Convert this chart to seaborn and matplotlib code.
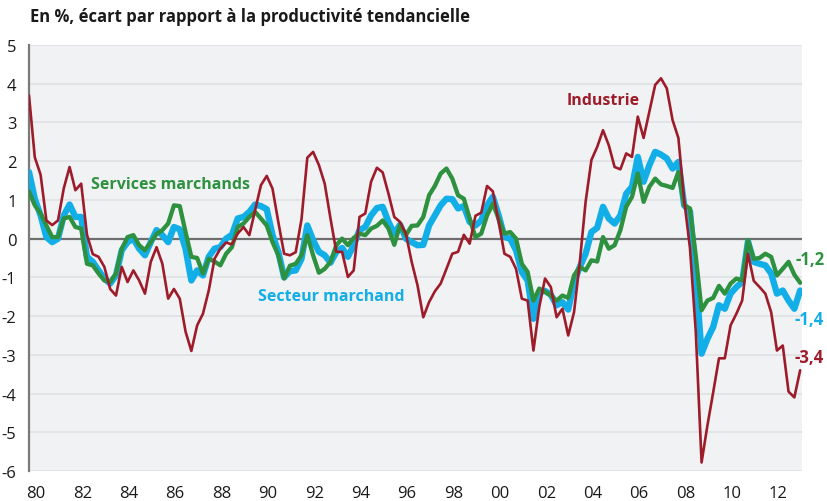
import pandas as pd
import seaborn as sns
import matplotlib.pyplot as plt

# ecarts trimestriels (en %) a la productivite tendancielle, 1980T1 -> 2013T2
industrie = [3.7, 2.1, 1.65, 0.47, 0.35, 0.47, 1.3, 1.85, 1.25, 1.42,
             0.1, -0.4, -0.47, -0.73, -1.3, -1.47, -0.73, -1.12, -0.82, -1.08,
             -1.42, -0.6, -0.22, -0.65, -1.55, -1.3, -1.55, -2.4, -2.9, -2.24,
             -1.94, -1.34, -0.52, -0.26, -0.1, -0.15, 0.13, 0.3, 0.09, 0.73,
             1.38, 1.62, 1.29, 0.43, -0.39, -0.43, -0.35, 0.5, 2.09, 2.24,
             1.9, 1.42, 0.52, -0.34, -0.34, -0.99, -0.82, 0.56, 0.65, 1.47,
             1.83, 1.71, 1.16, 0.56, 0.43, 0.13, -0.6, -1.2, -2.03, -1.64,
             -1.36, -1.16, -0.78, -0.39, -0.34, 0.1, -0.13, 0.59, 0.67, 1.36,
             1.22, 0.43, -0.39, -0.47, -0.78, -1.55, -1.6, -2.89, -1.77, -1.03,
             -1.25, -2.03, -1.81, -2.5, -1.9, -0.6, 0.95, 2.03, 2.37, 2.8,
             2.41, 1.85, 1.79, 2.2, 2.11, 3.15, 2.6, 3.28, 3.97, 4.14,
             3.88, 3.06, 2.6, 1.0, -0.25, -2.4, -5.78, -4.83, -3.97, -3.09,
             -3.09, -2.24, -1.94, -1.6, -0.39, -1.09, -1.25, -1.42, -1.9, -2.89,
             -2.76, -3.95, -4.1, -3.4]

services = [1.22, 0.86, 0.65, 0.34, 0.04, 0.04, 0.52, 0.56, 0.3, 0.26,
            -0.65, -0.69, -0.9, -1.08, -1.12, -0.9, -0.26, 0.04, 0.09, -0.17,
            -0.3, -0.09, 0.12, 0.22, 0.39, 0.86, 0.84, 0.17, -0.47, -0.5,
            -0.9, -0.52, -0.59, -0.69, -0.39, -0.22, 0.3, 0.39, 0.56, 0.69,
            0.52, 0.34, -0.09, -0.43, -1.03, -0.7, -0.65, -0.43, 0.09, -0.43,
            -0.88, -0.78, -0.6, -0.17, 0.0, -0.17, 0.02, 0.13, 0.09, 0.26,
            0.33, 0.47, 0.26, -0.16, 0.36, 0.09, 0.33, 0.34, 0.56, 1.12,
            1.36, 1.68, 1.81, 1.55, 1.12, 1.03, 0.52, 0.04, 0.13, 0.6,
            0.9, 0.52, 0.13, 0.17, 0.0, -0.65, -0.86, -1.6, -1.29, -1.37,
            -1.47, -1.6, -1.47, -1.53, -0.95, -0.73, -0.82, -0.56, -0.59, 0.04,
            -0.26, -0.17, 0.22, 0.82, 1.08, 1.68, 0.95, 1.34, 1.55, 1.4,
            1.36, 1.31, 1.72, 0.86, 0.78, -0.45, -1.85, -1.6, -1.53, -1.22,
            -1.42, -1.16, -1.03, -1.08, -0.04, -0.52, -0.5, -0.39, -0.47, -0.95,
            -0.78, -0.6, -0.93, -1.14]

secteur = [1.72, 1.03, 0.6, 0.04, -0.09, 0.0, 0.6, 0.88, 0.56, 0.56,
           -0.47, -0.6, -0.82, -1.03, -1.16, -0.95, -0.3, -0.09, 0.0, -0.26,
           -0.43, -0.09, 0.22, 0.09, -0.09, 0.3, 0.24, -0.26, -1.08, -0.82,
           -0.95, -0.47, -0.26, -0.22, 0.0, 0.1, 0.52, 0.56, 0.69, 0.88,
           0.84, 0.76, 0.09, -0.34, -1.0, -0.84, -0.82, -0.52, 0.34, -0.04,
           -0.34, -0.43, -0.62, -0.34, -0.24, -0.47, -0.17, 0.22, 0.3, 0.6,
           0.79, 0.82, 0.43, 0.13, 0.36, 0.0, -0.09, -0.17, -0.16, 0.34,
           0.6, 0.86, 1.03, 1.02, 0.78, 0.84, 0.43, 0.34, 0.47, 0.86,
           1.08, 0.6, 0.04, 0.0, -0.3, -0.86, -1.08, -2.07, -1.38, -1.35,
           -1.45, -1.72, -1.64, -1.83, -1.12, -0.73, -0.39, 0.17, 0.28, 0.82,
           0.52, 0.39, 0.6, 1.16, 1.34, 2.11, 1.47, 1.9, 2.24, 2.17,
           2.07, 1.81, 1.98, 0.86, 0.7, -0.95, -2.97, -2.59, -2.28, -1.72,
           -1.81, -1.42, -1.25, -1.12, -0.07, -0.6, -0.65, -0.69, -0.9, -1.42,
           -1.34, -1.6, -1.81, -1.34]

trimestres = [1980 + k / 4 for k in range(len(industrie))]
annees = list(range(1980, 2013, 2))

df = pd.DataFrame({"date": trimestres, "Industrie": industrie,
                   "Services marchands": services, "Secteur marchand": secteur})
long = df.melt("date", var_name="serie", value_name="ecart")

rouge, vert, bleu = "#9e1b2a", "#2e9140", "#12aee8"

sns.set_style("white")
plt.rcParams["font.family"] = ["Open Sans", "DejaVu Sans"]
plt.rcParams["axes.unicode_minus"] = False

fig = plt.figure(figsize=(8.27, 5.02), dpi=100)
ax = fig.add_axes([29 / 827, 1 - 472 / 502, (802 - 29) / 827, (472 - 46) / 502])
ax.set_facecolor("#f1f2f4")

# ordre de trace : bleu dessous, vert, puis rouge fin au-dessus
for s, c, lw in [("Secteur marchand", bleu, 4.6),
                 ("Services marchands", vert, 3.1),
                 ("Industrie", rouge, 1.9)]:
    sns.lineplot(data=long[long.serie == s], x="date", y="ecart",
                 color=c, lw=lw, ax=ax, legend=False, zorder=3)

ax.set_xlim(1980, 2013.33)
ax.set_ylim(-6, 5)
ax.set_yticks(range(-6, 6))
ax.grid(axis="y", color="#e0e1e4", lw=1.2, zorder=0)
ax.grid(axis="x", visible=False)
ax.axhline(0, color="#6e6e6e", lw=1.6, zorder=2)

for sp in ["top", "right", "bottom"]:
    ax.spines[sp].set_visible(False)
ax.spines["left"].set_color("#7a7a7a")
ax.spines["left"].set_linewidth(1.6)

ax.set_xticks(range(1980, 2014))
ax.set_xticklabels([])
ax.set_xticks([a + 0.3 for a in annees], minor=True)
ax.set_xticklabels([f"{a % 100:02d}" for a in annees], minor=True)
ax.tick_params(axis="x", which="major", length=4, width=1.2, color="#8a8a8a", direction="out")
ax.tick_params(axis="x", which="minor", length=0, pad=10, labelsize=12, labelcolor="#1a1a1a")
ax.tick_params(axis="y", length=0, pad=9, labelsize=12, labelcolor="#1a1a1a")
ax.set_xlabel("")
ax.set_ylabel("")

fig.text(30 / 827, 1 - 17 / 502, "En %, écart par rapport à la productivité tendancielle",
         fontsize=12, fontweight="bold", color="#1a1a1a", va="center", ha="left")

ax.text(2003.2, 3.58, "Industrie", color=rouge, fontsize=11.5, fontweight="bold", va="center")
ax.text(1982.66, 1.41, "Services marchands", color=vert, fontsize=11.5, fontweight="bold", va="center")
ax.text(1989.88, -1.47, "Secteur marchand", color=bleu, fontsize=11.5, fontweight="bold", va="center")

ax.text(2013.05, -0.52, "-1,2", color=vert, fontsize=12, fontweight="bold", va="center", clip_on=False)
ax.text(2013.0, -2.07, "-1,4", color=bleu, fontsize=12, fontweight="bold", va="center", clip_on=False)
ax.text(2013.0, -3.05, "-3,4", color=rouge, fontsize=12, fontweight="bold", va="center", clip_on=False)

fig.savefig("out.png", dpi=100)
